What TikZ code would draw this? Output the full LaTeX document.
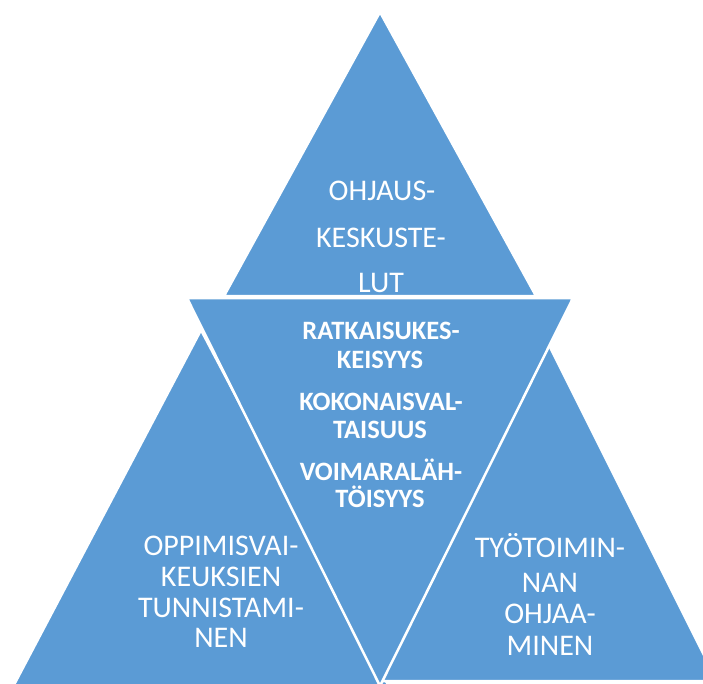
\documentclass[tikz,border=0pt]{standalone}
\usepackage{fontspec}
\setmainfont{Carlito}
\definecolor{tblue}{RGB}{91,155,213}
\begin{document}
\begin{tikzpicture}[x=1pt,y=-1pt,
  tri/.style={fill=tblue, draw=white, line width=2.5pt, line join=miter},
  lbl/.style={text=white, anchor=base, inner sep=0pt, font=\fontsize{30}{33}\selectfont},
  blbl/.style={lbl, font=\fontsize{26.5}{30}\selectfont\bfseries}]
\useasboundingbox (0,0) rectangle (703,683);
\begin{scope}
\clip (0,0) rectangle (703,683);
\draw[tri] (380,12) -- (536,296) -- (224,296) -- cycle;
\draw[tri] (201,330) -- (396,700) -- (6,700) -- cycle;
\draw[tri] (549,345) -- (717,681) -- (381,681) -- cycle;
\draw[tri] (187,298) -- (573,298) -- (380,686) -- cycle;
\end{scope}
% top
\node[lbl] (t1) at (382,200) {OHJAUS-};
\node[lbl] (t2) at (381,247) {KESKUSTE-};
\node[lbl] (t3) at (381,292) {LUT};
% middle
\node[blbl] (m1) at (381,339) {RATKAISUKES-};
\node[blbl] (m2) at (380,368) {KEISYYS};
\node[blbl] (m3) at (381,410) {KOKONAISVAL-};
\node[blbl] (m4) at (380,438) {TAISUUS};
\node[blbl] (m5) at (381,480) {VOIMARALÄH-};
\node[blbl] (m6) at (380,507) {TÖISYYS};
% left
\node[lbl] (l1) at (221,555) {OPPIMISVAI-};
\node[lbl] (l2) at (221,586) {KEUKSIEN};
\node[lbl] (l3) at (221,617) {TUNNISTAMI-};
\node[lbl] (l4) at (221,647) {NEN};
% right
\node[lbl] (r1) at (550,557) {TYÖTOIMIN-};
\node[lbl] (r2) at (550,592) {NAN};
\node[lbl] (r3) at (550,623) {OHJAA-};
\node[lbl] (r4) at (550,655) {MINEN};
\end{tikzpicture}
\end{document}
